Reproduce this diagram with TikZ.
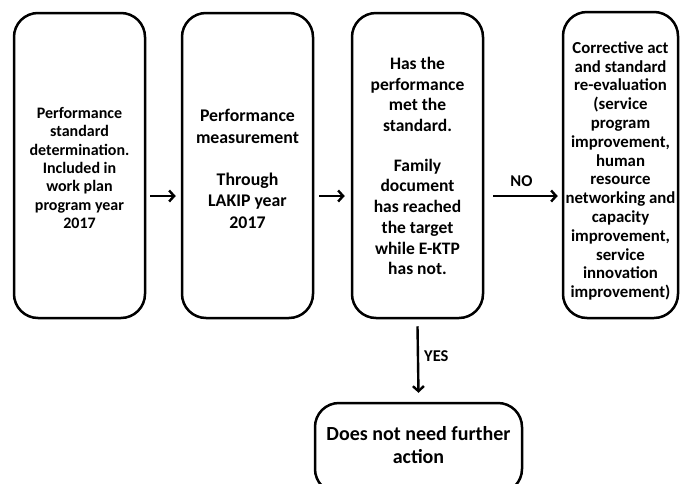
\documentclass[tikz,border=0pt]{standalone}
\usepackage{fontspec}
\setmainfont{Carlito}
\usetikzlibrary{arrows.meta}
\begin{document}
\begin{tikzpicture}[x=1pt,y=-1pt,
  box/.style={draw=black,line width=2.5pt,rounded corners=24pt,inner sep=0pt,fill=white},
  txt/.style={align=center,inner sep=0pt,font=\bfseries},
  arr/.style={line width=2.4pt,-{Straight Barb[length=5pt,width=11pt,line width=2.4pt]}},
  lbl/.style={inner sep=0pt,font=\fontsize{16.5}{18}\selectfont\bfseries}]
\useasboundingbox (0,0) rectangle (681,483);
\clip (0,0) rectangle (681,483);
\node[box,minimum width=131pt,minimum height=305pt] (b1) at (79.5,165.5) {};
\node[box,minimum width=131pt,minimum height=305pt] (b2) at (247.5,165.5) {};
\node[box,minimum width=131pt,minimum height=305pt] (b3) at (417.5,165.5) {};
\node[box,minimum width=115pt,minimum height=306pt] (b4) at (620.5,165) {};
\node[box,minimum width=207pt,minimum height=90pt] (b5) at (418.5,448) {};
\node[txt,font=\fontsize{16}{18.3}\selectfont\bfseries] (t1) at (79.5,168)
  {Performance\\standard\\determination.\\Included in\\work plan\\program year\\2017};
\node[txt,font=\fontsize{17.8}{21.7}\selectfont\bfseries] (t2) at (247.5,169)
  {Performance\\measurement\\[20pt]Through\\LAKIP year\\2017};
\node[txt,font=\fontsize{17.5}{20.7}\selectfont\bfseries] (t3) at (417.5,166)
  {Has the\\performance\\met the\\standard.\\[19pt]Family\\document\\has reached\\the target\\while E-KTP\\has not.};
\node[txt,font=\fontsize{16.8}{18.8}\selectfont\bfseries] (t4) at (620.5,171)
  {Corrective act\\and standard\\re-evaluation\\(service\\program\\improvement,\\human\\resource\\networking and\\capacity\\improvement,\\service\\innovation\\improvement)};
\node[txt,font=\fontsize{20}{23}\selectfont\bfseries] (t5) at (418.5,445)
  {Does not need further\\action};
\coordinate (a1s) at (150,196);
\draw[arr] (b1.east |- a1s) ++(4,0) -- ([xshift=-5pt]b2.west |- a1s);
\draw[arr] ([xshift=5pt]b2.east |- a1s) -- ([xshift=-6pt]b3.west |- a1s);
\draw[arr] ([xshift=9pt]b3.east |- a1s) -- ([xshift=-4pt]b4.west |- a1s) node[lbl,midway,above=8pt,xshift=-4pt] (no) {NO};
\draw[arr] ([yshift=-7pt]b3.south) -- ([yshift=9pt]b5.north) node[lbl,midway,right=5pt,yshift=3pt] (yes) {YES};
\end{tikzpicture}
\end{document}
